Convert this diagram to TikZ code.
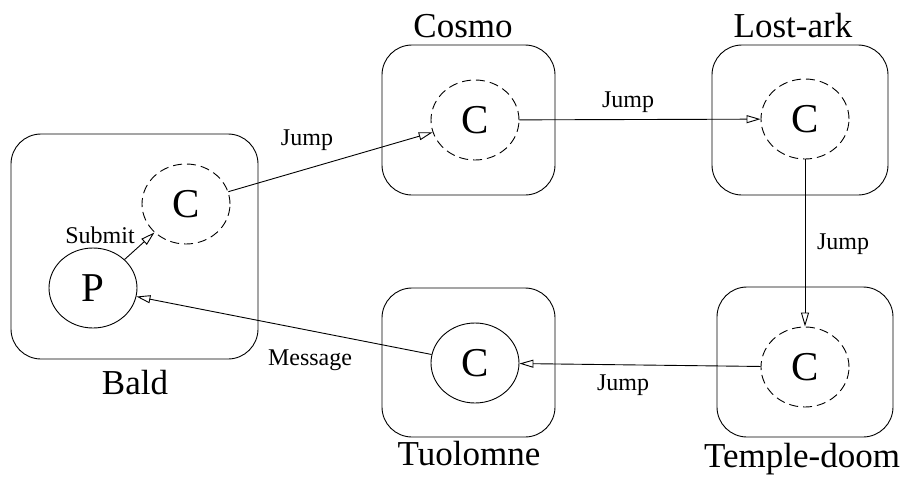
\documentclass[tikz,border=0pt]{standalone}
\usepackage{fontspec}
\setmainfont{Liberation Serif}
\usetikzlibrary{arrows.meta,shapes.geometric}
\begin{document}
\begin{tikzpicture}[x=1pt,y=-1pt,
  host/.style={draw, line width=0.9pt, rounded corners=30pt, inner sep=0pt},
  proc/.style={ellipse, draw, line width=0.9pt, minimum width=88pt,
    minimum height=80pt, inner sep=0pt, font=\fontsize{41}{41}\selectfont},
  mobile/.style={proc, dash pattern=on 9pt off 5pt},
  hostname/.style={anchor=base, font=\fontsize{35}{35}\selectfont},
  edgetext/.style={anchor=base, font=\fontsize{24}{24}\selectfont},
  hop/.style={line width=0.9pt, -{Triangle[open,length=14pt,width=8pt]}}]
\path[use as bounding box] (0,0) rectangle (906,485);

% hosts
\node[host, minimum width=247pt, minimum height=225pt] (bald) at (134.5,246.5) {};
\node[host, minimum width=173pt, minimum height=150pt] (cosmo) at (468.5,120) {};
\node[host, minimum width=176pt, minimum height=150pt] (lostark) at (800,120) {};
\node[host, minimum width=176pt, minimum height=150pt] (temple) at (805,362) {};
\node[host, minimum width=173pt, minimum height=149pt] (tuol) at (468.5,362.5) {};

% host names
\node[hostname] (baldname) at (135,394) {Bald};
\node[hostname] (cosmoname) at (463,37) {Cosmo};
\node[hostname] (lostarkname) at (793,37) {Lost-ark};
\node[hostname] (templename) at (802,467) {Temple-doom};
\node[hostname] (tuolname) at (469,465) {Tuolomne};

% processes and mobile computations
\node[proc] (p) at (93,288) {P};
\node[mobile] (cbald) at (186,204) {C};
\node[mobile] (ccosmo) at (475,120) {C};
\node[mobile] (clostark) at (805,119) {C};
\node[mobile] (ctemple) at (805,367) {C};
\node[proc] (ctuol) at (475,363) {C};

% migrations and messages
\draw[hop] (p) -- (cbald);
\draw[hop] (cbald) -- (ccosmo);
\draw[hop] (ccosmo) -- (clostark);
\draw[hop] (clostark) -- (ctemple);
\draw[hop] (ctemple) -- (ctuol);
\draw[hop] (ctuol) -- (p);

% edge labels
\node[edgetext] (lsubmit) at (100,243) {Submit};
\node[edgetext] (ljump1) at (307,145) {Jump};
\node[edgetext] (ljump2) at (628,107) {Jump};
\node[edgetext] (ljump3) at (843,249) {Jump};
\node[edgetext] (ljump4) at (623,390) {Jump};
\node[edgetext] (lmessage) at (310,365) {Message};
\end{tikzpicture}
\end{document}
